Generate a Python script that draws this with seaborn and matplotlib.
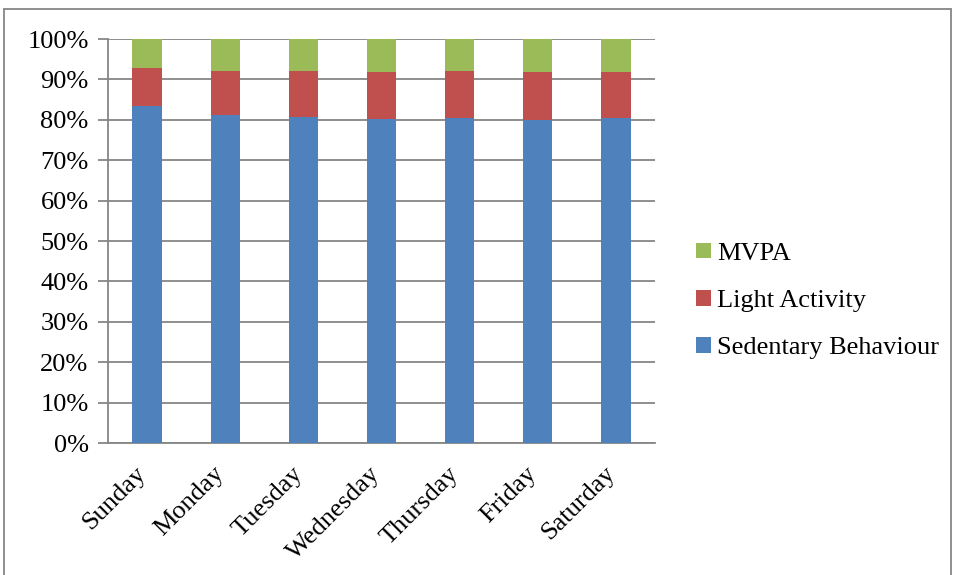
import matplotlib
matplotlib.use("Agg")
import matplotlib.pyplot as plt
import matplotlib.transforms as mtransforms
import seaborn as sns
import pandas as pd
import numpy as np
from matplotlib.patches import Rectangle
from matplotlib.lines import Line2D

days = ["Sunday", "Monday", "Tuesday", "Wednesday", "Thursday", "Friday", "Saturday"]
sedentary = [83.4, 81.1, 80.6, 80.2, 80.5, 80.0, 80.5]
light = [9.5, 11.1, 11.4, 11.7, 11.6, 11.9, 11.4]
mvpa = [7.1, 7.8, 8.0, 8.1, 7.9, 8.1, 8.1]
series_names = ["Sedentary Behaviour", "Light Activity", "MVPA"]
colors = {"Sedentary Behaviour": "#4F81BD", "Light Activity": "#C0504D", "MVPA": "#9BBB59"}
ytick_vals = list(range(0, 101, 10))

sns.set_theme(style="white")
plt.rcParams["font.family"] = ["Liberation Serif", "DejaVu Serif"]
plt.rcParams["text.color"] = "black"
plt.rcParams["xtick.color"] = "black"
plt.rcParams["ytick.color"] = "black"
FS = 19

fig = plt.figure(figsize=(9.55, 5.75), dpi=100)
ax = fig.add_axes([108 / 955, 1 - 443 / 575, (655 - 108) / 955, (443 - 39) / 575])

sed = np.array(sedentary)
lig = np.array(light)
mv = np.array(mvpa)
layers = [
    ("MVPA", sed + lig + mv),
    ("Light Activity", sed + lig),
    ("Sedentary Behaviour", sed),
]
for name, vals in layers:
    df = pd.DataFrame({"day": days, "value": vals})
    sns.barplot(data=df, x="day", y="value", color=colors[name], saturation=1,
                width=0.375, ax=ax, zorder=3, edgecolor="none")

ax.set_ylim(0, 100)
ax.set_xlim(-0.5, 6.5)
ax.set_yticks(ytick_vals)
ax.set_yticklabels([f"{v}%" for v in ytick_vals], fontsize=FS, color="black")
ax.yaxis.grid(True, color="#868686", linewidth=1.3, zorder=0)
ax.set_axisbelow(True)
ax.set_xlabel("")
ax.set_ylabel("")

ax.set_xticks(range(len(days)))
ax.set_xticklabels(days, rotation=45, ha="right", rotation_mode="anchor", fontsize=FS, color="black")
ax.set_xticks(np.arange(-0.5, 7, 1), minor=True)
ax.tick_params(axis="x", which="major", length=0, pad=14)
ax.tick_params(axis="x", which="minor", length=7, width=1.3, color="#868686", direction="out")
ax.tick_params(axis="y", which="major", length=7, width=1.3, color="#868686", direction="out", left=True, pad=7)

offset = mtransforms.ScaledTranslation(-12 / 100, 0, fig.dpi_scale_trans)
for lab in ax.get_xticklabels():
    lab.set_transform(lab.get_transform() + offset)

for s in ["top", "right"]:
    ax.spines[s].set_visible(False)
for s in ["left", "bottom"]:
    ax.spines[s].set_visible(True)
    ax.spines[s].set_color("#868686")
    ax.spines[s].set_linewidth(1.3)

handles = [Rectangle((0, 0), 1, 1, facecolor=colors[n], edgecolor="none") for n in ["MVPA", "Light Activity", "Sedentary Behaviour"]]
leg = fig.legend(handles, ["MVPA", "Light Activity", "Sedentary Behaviour"],
           loc="center left", bbox_to_anchor=(696 / 955, 1 - 301 / 575),
           frameon=False, fontsize=FS, handlelength=0.55, handleheight=0.55,
           handletextpad=0.25, labelspacing=0.95, borderaxespad=0, borderpad=0)
for t in leg.get_texts():
    t.set_color("black")

# outer chart border
fig.add_artist(Line2D([4 / 955, 4 / 955], [0, 1 - 9 / 575], transform=fig.transFigure, color="#868686", lw=1.3))
fig.add_artist(Line2D([4 / 955, 951 / 955], [1 - 9 / 575, 1 - 9 / 575], transform=fig.transFigure, color="#868686", lw=1.3))
fig.add_artist(Line2D([951 / 955, 951 / 955], [0, 1 - 9 / 575], transform=fig.transFigure, color="#868686", lw=1.3))

fig.savefig("out.png", dpi=100)
